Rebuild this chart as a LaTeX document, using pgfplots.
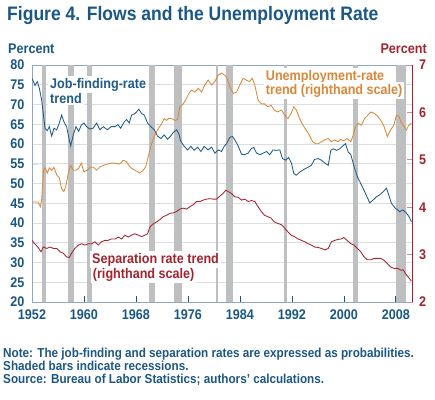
\documentclass[border=0pt]{standalone}
\usepackage{pgfplots}
\pgfplotsset{compat=1.18}
\usepackage{fontspec}
\setmainfont{Liberation Sans}[FakeStretch=0.9]
\definecolor{fedblue}{HTML}{1B5785}
\definecolor{jfblue}{HTML}{1F5B8A}
\definecolor{unorange}{HTML}{D98838}
\definecolor{sepred}{HTML}{A3242E}
\definecolor{recgray}{HTML}{BEBFC1}
\definecolor{gridgray}{HTML}{DDDDDD}
\definecolor{axblue}{HTML}{8FAAC0}
\definecolor{ticred}{HTML}{D9888F}
\newcommand{\tickfont}{\bfseries\fontsize{14bp}{16bp}\selectfont}
\newcommand{\labfont}{\bfseries\fontsize{14bp}{16bp}\selectfont}
\newcommand{\notefont}{\bfseries\fontsize{13bp}{15bp}\selectfont}
\begin{document}
\begin{tikzpicture}[x=1bp,y=1bp]
\useasboundingbox (0,0) rectangle (435,399);
\begin{axis}[
  at={(32bp,97bp)}, anchor=south west, scale only axis,
  width=380bp, height=237bp,
  xmin=1952, xmax=2010.5, ymin=20, ymax=80,
  axis line style={axblue, line width=0.8pt},
  xtick={1952,1960,1968,1976,1984,1992,2000,2008},
  ytick={20,25,...,80},
  xtick pos=bottom, ytick pos=left,
  tick align=inside, major tick length=6bp,
  xtick style={fedblue, line width=0.6pt},
  ytick style={gridgray},
  ymajorgrids, grid style={gridgray, line width=0.6pt},
  tick label style={font=\tickfont, /pgf/number format/assume math mode=true},
  xticklabel style={fedblue, yshift=-4bp, /pgf/number format/1000 sep={}},
  yticklabel style={fedblue, xshift=-4bp},
]
\addplot[draw=none, fill=recgray] coordinates {(1953.5,20) (1953.5,80) (1954.15,80) (1954.15,20)} -- cycle;
\addplot[draw=none, fill=recgray] coordinates {(1957.6,20) (1957.6,80) (1958.5,80) (1958.5,20)} -- cycle;
\addplot[draw=none, fill=recgray] coordinates {(1960.4,20) (1960.4,80) (1961.2,80) (1961.2,20)} -- cycle;
\addplot[draw=none, fill=recgray] coordinates {(1970.0,20) (1970.0,80) (1970.9,80) (1970.9,20)} -- cycle;
\addplot[draw=none, fill=recgray] coordinates {(1973.9,20) (1973.9,80) (1975.1,80) (1975.1,20)} -- cycle;
\addplot[draw=none, fill=recgray] coordinates {(1980.26,20) (1980.26,80) (1980.66,80) (1980.66,20)} -- cycle;
\addplot[draw=none, fill=recgray] coordinates {(1981.85,20) (1981.85,80) (1982.9,80) (1982.9,20)} -- cycle;
\addplot[draw=none, fill=recgray] coordinates {(1990.8,20) (1990.8,80) (1991.3,80) (1991.3,20)} -- cycle;
\addplot[draw=none, fill=recgray] coordinates {(2001.4,20) (2001.4,80) (2002.2,80) (2002.2,20)} -- cycle;
\addplot[draw=none, fill=recgray] coordinates {(2008.1,20) (2008.1,80) (2009.6,80) (2009.6,20)} -- cycle;
% job-finding rate trend (left scale)
\addplot[jfblue, line width=0.85pt] table {
x y
1952.0 76.6
1952.46 74.9
1952.82 75.8
1953.13 74.1
1953.49 71.1
1953.74 67.7
1954.0 64.0
1954.36 63.4
1954.67 64.4
1955.03 62.0
1955.38 64.0
1955.8 63.6
1956.2 65.3
1956.56 67.3
1956.92 65.6
1957.33 64.4
1957.69 61.4
1957.95 59.5
1958.36 62.3
1958.77 64.4
1959.18 63.2
1959.59 64.8
1960.0 65.3
1960.4 64.4
1960.9 63.8
1961.4 64.0
1961.95 65.3
1962.46 63.6
1962.97 64.4
1963.6 63.6
1964.2 64.4
1964.8 64.4
1965.23 64.9
1965.64 64.0
1966.2 65.6
1966.56 66.2
1966.97 65.3
1967.33 67.3
1967.85 67.7
1968.46 68.8
1968.87 67.7
1969.28 67.3
1969.8 65.3
1970.3 64.4
1970.82 63.6
1971.33 62.0
1971.85 61.4
1972.36 62.3
1972.87 61.2
1973.28 61.9
1973.74 62.9
1974.26 63.6
1974.6 62.6
1974.9 60.7
1975.4 59.5
1975.95 58.5
1976.46 59.4
1976.97 58.4
1977.5 59.2
1978.0 58.1
1978.5 59.4
1979.1 58.5
1979.64 59.2
1980.15 57.7
1980.67 58.5
1981.18 58.1
1981.59 59.4
1981.95 60.1
1982.46 61.7
1982.87 61.9
1983.23 61.0
1983.74 59.5
1984.26 57.4
1984.77 57.3
1985.28 57.7
1985.8 58.9
1986.15 59.1
1986.56 57.7
1987.1 57.3
1987.6 57.7
1988.1 58.1
1988.6 57.3
1989.1 58.5
1989.6 58.4
1990.15 58.5
1990.56 56.3
1991.08 55.9
1991.5 56.6
1991.95 55.1
1992.3 52.5
1992.7 52.1
1993.2 52.9
1993.7 53.4
1994.1 53.8
1994.6 54.2
1995.0 54.6
1995.5 56.1
1996.05 56.3
1996.56 55.9
1997.08 55.2
1997.6 54.6
1998.0 58.4
1998.36 58.8
1998.9 58.4
1999.38 58.8
1999.9 59.6
2000.26 60.1
2000.67 58.0
2001.08 57.3
2001.6 54.2
2002.1 51.7
2002.72 49.6
2003.33 47.5
2004.0 45.1
2004.5 45.8
2005.0 46.6
2005.5 47.1
2006.05 47.9
2006.56 48.8
2006.8 47.7
2007.33 45.0
2007.95 43.7
2008.6 42.9
2009.13 43.3
2009.64 42.5
2010.05 41.6
2010.4 40.3
};
\end{axis}
\begin{axis}[
  at={(32bp,97bp)}, anchor=south west, scale only axis,
  width=380bp, height=237bp,
  xmin=1952, xmax=2010.5, ymin=2, ymax=7,
  axis x line=none, axis y line*=right,
  y axis line style={sepred, line width=0.9pt},
  ytick={2,3,4,5,6,7},
  tick align=inside, major tick length=5bp,
  ytick style={ticred, line width=0.8pt},
  tick label style={font=\tickfont, /pgf/number format/assume math mode=true},
  yticklabel style={sepred, xshift=3.5bp},
]
% unemployment-rate trend (right scale)
\addplot[unorange, line width=0.85pt] table {
x y
1952.0 4.11
1952.4 4.11
1952.9 4.11
1953.3 4.01
1953.5 4.18
1953.77 4.78
1954.0 4.84
1954.36 4.72
1954.67 4.83
1955.03 4.78
1955.38 4.84
1955.8 4.68
1956.2 4.62
1956.56 4.39
1956.92 4.33
1957.2 4.44
1957.59 4.72
1957.95 4.88
1958.36 4.78
1958.77 4.78
1959.18 4.82
1959.59 4.93
1960.0 4.75
1960.5 4.78
1961.0 4.85
1961.5 4.84
1961.95 4.78
1962.46 4.85
1962.97 4.88
1963.6 4.91
1964.2 4.93
1964.8 4.93
1965.5 4.91
1966.05 4.99
1966.56 4.96
1966.97 4.87
1967.33 4.82
1967.85 4.78
1968.62 4.72
1969.13 4.78
1969.49 4.85
1969.9 5.07
1970.41 5.34
1970.92 5.52
1971.44 5.66
1971.95 5.76
1972.36 5.87
1972.72 5.83
1973.08 5.88
1973.49 5.87
1974.0 5.83
1974.41 5.85
1974.77 6.12
1975.28 6.18
1975.64 6.26
1976.15 6.40
1976.56 6.47
1977.08 6.43
1977.6 6.51
1978.1 6.43
1978.6 6.58
1979.13 6.68
1979.64 6.58
1980.15 6.65
1980.67 6.79
1981.18 6.83
1981.6 6.79
1981.95 6.75
1982.46 6.54
1982.97 6.40
1983.5 6.43
1984.0 6.58
1984.5 6.72
1985.0 6.68
1985.5 6.65
1985.9 6.72
1986.3 6.58
1986.8 6.26
1987.3 6.18
1987.8 6.18
1988.3 6.12
1988.8 6.15
1989.3 6.05
1989.8 6.01
1990.4 6.05
1990.9 5.94
1991.4 5.87
1991.9 5.98
1992.3 6.12
1992.7 6.05
1993.2 5.87
1993.7 5.73
1994.2 5.63
1994.7 5.52
1995.2 5.38
1995.7 5.34
1996.05 5.34
1996.56 5.38
1997.08 5.42
1997.6 5.45
1998.1 5.38
1998.6 5.42
1999.1 5.38
1999.5 5.43
2000.0 5.40
2000.5 5.45
2001.08 5.38
2001.44 5.52
2001.8 5.70
2002.2 5.77
2002.7 5.73
2003.2 5.87
2003.7 5.94
2004.15 6.01
2004.67 5.98
2005.2 5.92
2005.7 5.83
2006.2 5.70
2006.7 5.49
2007.2 5.63
2007.7 5.73
2008.1 5.94
2008.46 5.92
2008.9 5.77
2009.3 5.70
2009.64 5.63
2010.0 5.73
2010.4 5.77
};
% separation rate trend (right scale)
\addplot[sepred, line width=0.85pt] table {
x y
1952.0 3.30
1952.4 3.23
1952.9 3.16
1953.4 3.06
1953.74 3.16
1954.26 3.13
1954.77 3.16
1955.3 3.13
1955.8 3.13
1956.3 3.06
1956.8 3.03
1957.33 2.95
1957.74 2.94
1958.1 3.03
1958.6 3.13
1959.13 3.20
1959.64 3.23
1960.15 3.20
1960.67 3.23
1961.18 3.23
1961.7 3.27
1962.2 3.20
1962.7 3.27
1963.2 3.30
1963.7 3.30
1964.2 3.33
1964.8 3.33
1965.3 3.37
1965.8 3.33
1966.3 3.41
1966.82 3.37
1967.33 3.41
1967.85 3.44
1968.36 3.41
1968.87 3.38
1969.38 3.41
1969.8 3.44
1970.15 3.58
1970.67 3.65
1971.18 3.69
1971.7 3.74
1972.2 3.80
1972.72 3.83
1973.23 3.87
1973.74 3.88
1974.26 3.91
1974.77 3.96
1975.28 3.98
1975.8 3.96
1976.3 4.01
1976.8 4.05
1977.33 4.12
1977.85 4.12
1978.36 4.15
1978.87 4.17
1979.38 4.18
1979.9 4.17
1980.4 4.17
1980.9 4.23
1981.4 4.29
1981.85 4.36
1982.2 4.33
1982.7 4.29
1983.23 4.22
1983.74 4.21
1984.26 4.15
1984.77 4.17
1985.28 4.12
1985.8 4.14
1986.3 4.12
1986.8 4.01
1987.3 3.91
1987.8 3.83
1988.3 3.80
1988.8 3.77
1989.3 3.69
1989.8 3.66
1990.4 3.63
1990.9 3.56
1991.4 3.48
1991.9 3.41
1992.4 3.38
1992.95 3.33
1993.5 3.30
1994.0 3.27
1994.5 3.23
1995.0 3.20
1995.5 3.16
1996.05 3.15
1996.56 3.13
1997.08 3.10
1997.6 3.13
1998.1 3.27
1998.6 3.30
1999.1 3.32
1999.6 3.33
2000.0 3.36
2000.5 3.30
2001.08 3.23
2001.6 3.20
2002.1 3.13
2002.6 3.06
2003.13 2.95
2003.64 2.89
2004.15 2.89
2004.67 2.92
2005.2 2.92
2005.7 2.92
2006.2 2.88
2006.7 2.81
2007.2 2.74
2007.74 2.71
2008.3 2.71
2008.8 2.67
2009.13 2.68
2009.5 2.60
2009.9 2.53
2010.4 2.44
};
\end{axis}
% titles
\node[anchor=base west, inner sep=0, text=fedblue, font=\bfseries\fontsize{19.5bp}{22bp}\selectfont] at (7,379) {Figure 4. Flows and the Unemployment Rate};
\node[anchor=base west, inner sep=0, text=fedblue, font=\labfont] at (8,346) {Percent};
\node[anchor=base east, inner sep=0, text=sepred, font=\labfont] at (427,346) {Percent};
% series labels
\node[anchor=base west, inner sep=2bp, fill=white, text=jfblue, font=\labfont] at (48,311) {Job-finding-rate};
\node[anchor=base west, inner sep=2bp, fill=white, text=jfblue, font=\labfont] at (48,296) {trend};
\node[anchor=base west, inner sep=2bp, fill=white, text=unorange, font=\labfont] at (263.7,319) {Unemployment-rate};
\node[anchor=base west, inner sep=2bp, fill=white, text=unorange, font=\labfont] at (263.7,304.7) {trend (righthand scale)};
\node[anchor=base west, inner sep=2bp, fill=white, text=sepred, font=\labfont] at (90,136) {Separation rate trend};
\node[anchor=base west, inner sep=2bp, fill=white, text=sepred, font=\labfont] at (90.7,121) {(righthand scale)};
% notes
\node[anchor=base west, inner sep=0, text=fedblue, font=\notefont] at (3,42) {Note: The job-finding and separation rates are expressed as probabilities.};
\node[anchor=base west, inner sep=0, text=fedblue, font=\notefont] at (3,29) {Shaded bars indicate recessions.};
\node[anchor=base west, inner sep=0, text=fedblue, font=\notefont] at (3,16) {Source: Bureau of Labor Statistics; authors’ calculations.};
\end{tikzpicture}
\end{document}
